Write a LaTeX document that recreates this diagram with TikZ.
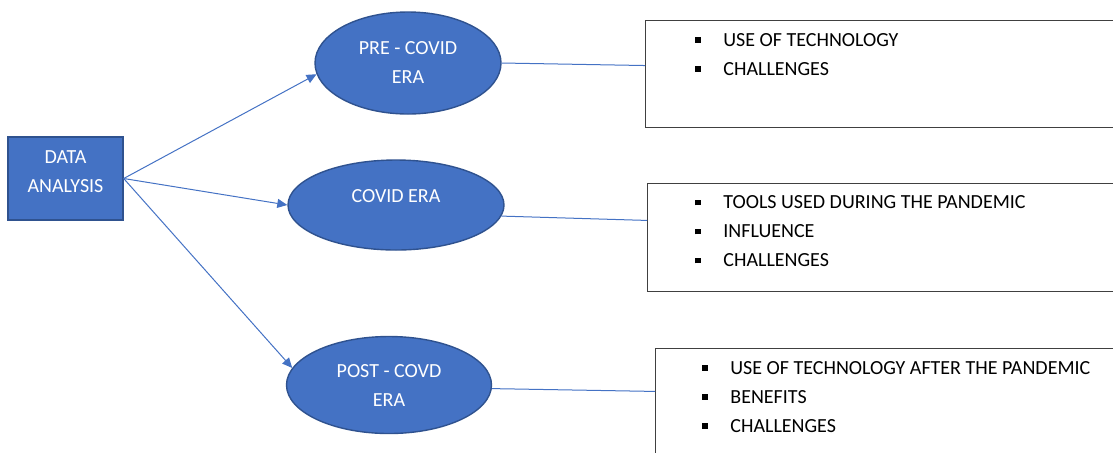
\documentclass[tikz,border=0pt]{standalone}
\usepackage{fontspec}
\setmainfont{Carlito}
\usetikzlibrary{shapes.geometric, arrows.meta, positioning}

\definecolor{eraBlue}{HTML}{4472C4}
\definecolor{eraEdge}{HTML}{2F528F}
\newcommand{\sqbul}{\makebox[14pt][l]{\raisebox{1.8pt}{\rule{2.7pt}{2.7pt}}}}

\begin{document}
\begin{tikzpicture}[x=0.5pt, y=-0.5pt,
    font=\fontsize{10}{14.5}\selectfont,
    era/.style={ellipse, draw=eraEdge, line width=0.7pt, fill=eraBlue,
      text=white, align=center, inner sep=0pt},
    topic/.style={rectangle, draw=eraEdge, line width=0.7pt, fill=eraBlue,
      text=white, align=center, minimum width=57.5pt, minimum height=41.5pt,
      inner sep=0pt},
    listbox/.style={rectangle, draw=black!75, line width=0.6pt,
      minimum width=245pt, anchor=north west, inner sep=0pt},
    listtext/.style={align=left, inner sep=0pt, anchor=north west},
    link/.style={eraBlue, line width=0.5pt},
    branch/.style={link, -{Triangle[length=5pt, width=4.5pt]}}]
    \clip (0, 0) rectangle (1113, 452);

    % Main topic
    \node[topic] (da) at (65.5, 178.5) {DATA\\ANALYSIS\\[-8pt]\mbox{}};

    % The three eras
    \node[era, minimum width=93pt, minimum height=51pt]
      (pre) at (408, 63) {PRE - COVID\\ERA};
    \node[era, minimum width=108pt, minimum height=45pt, text depth=9pt]
      (cov) at (396, 205) {COVID ERA};
    \node[era, minimum width=102.5pt, minimum height=48.5pt]
      (post) at (389, 385) {POST - COVD\\ERA};

    % Boxes with the points of each era
    \node[listbox, minimum height=53.5pt] (box1) at (645, 20) {};
    \node[listbox, minimum height=54pt] (box2) at (647, 183) {};
    \node[listbox, minimum height=60pt] (box3) at (655, 348) {};

    \node[listtext, below right=6.5pt and 25pt of box1.north west] (list1)
      {\sqbul USE OF TECHNOLOGY\\\sqbul CHALLENGES};
    \node[listtext, below right=6.3pt and 24pt of box2.north west] (list2)
      {\sqbul TOOLS USED DURING THE PANDEMIC\\\sqbul INFLUENCE\\\sqbul CHALLENGES};
    \node[listtext, below right=6.5pt and 23.5pt of box3.north west] (list3)
      {\sqbul USE OF TECHNOLOGY AFTER THE PANDEMIC\\\sqbul BENEFITS\\\sqbul CHALLENGES};

    % Arrows from the topic to the eras
    \draw[branch] (da.east) -- (pre.187);
    \draw[branch] (da.east) -- (cov.west);
    \draw[branch] (da.east) -- (post.170);

    % Lines from the eras to their boxes
    \draw[link] (pre.east) -- (box1.178.7);
    \draw[link] (cov.-6) -- (box2.176);
    \draw[link] (post.-2) -- (box3.176.3);
  \end{tikzpicture}
\end{document}
